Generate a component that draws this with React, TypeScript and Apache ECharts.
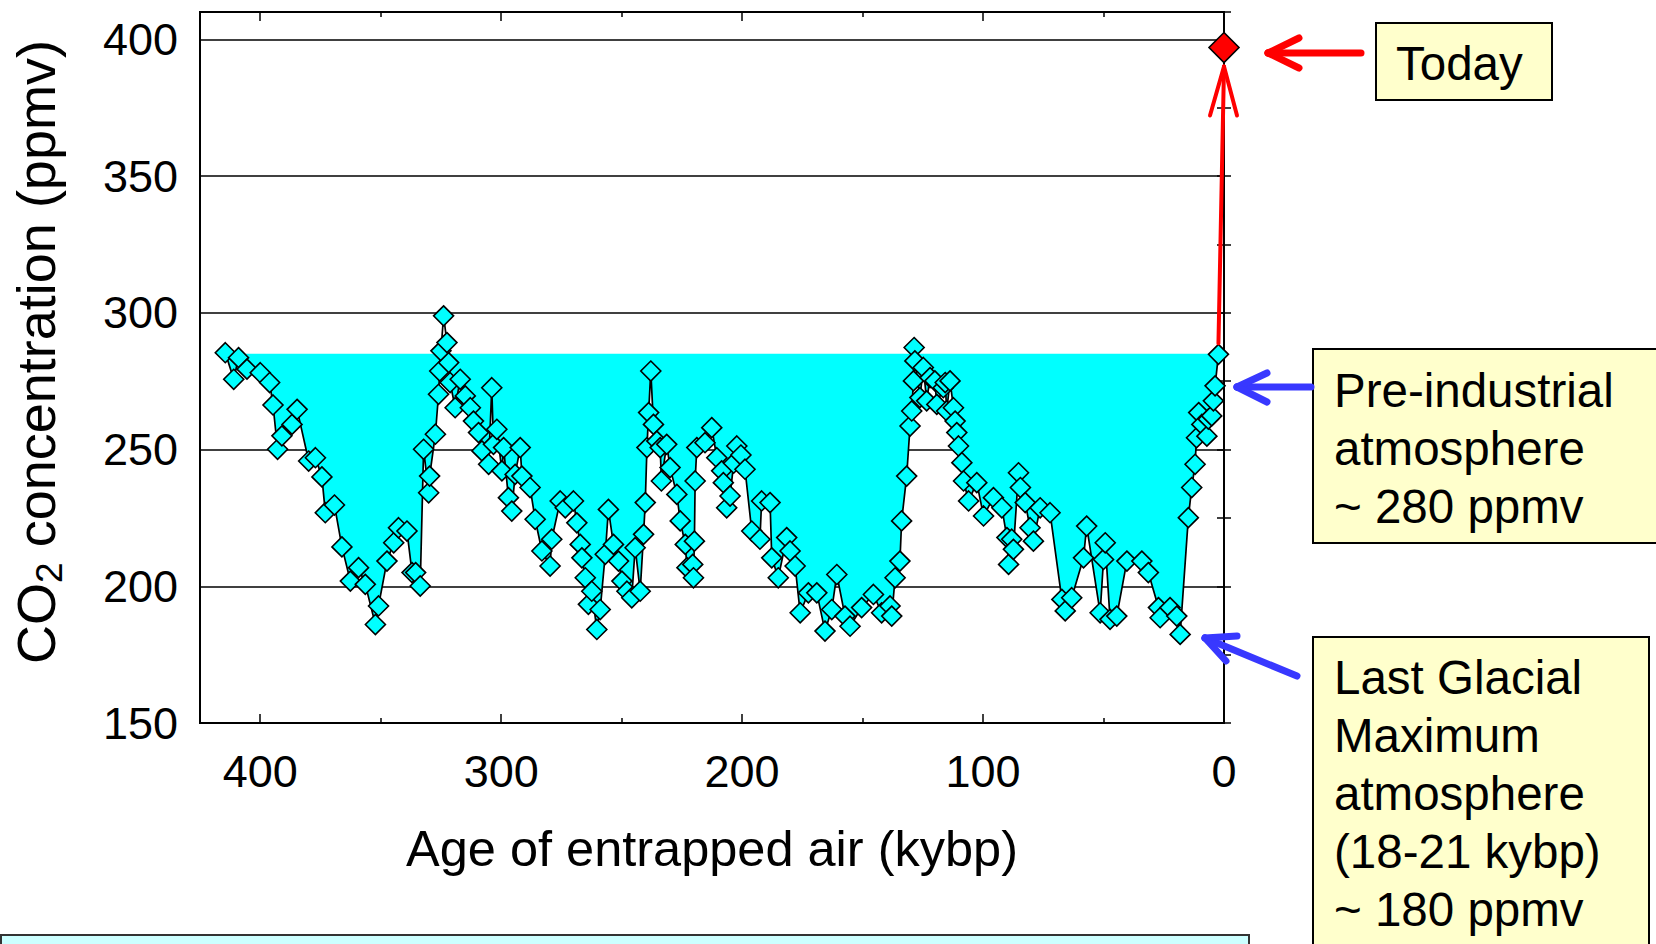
import React, { useEffect, useRef } from 'react';
import * as echarts from 'echarts';

// Vostok ice core CO2 record
const ages = [
  414.5, 411.0, 409.0, 405.5, 400.0, 396.1, 394.7, 392.8, 391.0, 386.8, 384.7, 379.9, 377.1, 374.4, 373.0, 369.2,
  366.1, 362.6, 359.2, 356.4, 352.2, 350.9, 347.4, 344.6, 342.6, 339.1, 337.0, 335.5, 333.6, 332.2, 330.1, 329.7,
  327.3, 326.0, 325.5, 325.0, 323.9, 322.5, 321.8, 321.2, 319.1, 317.0, 314.9, 312.8, 311.5, 309.4, 308.0, 305.2,
  303.9, 303.2, 301.8, 299.7, 299.0, 297.0, 295.6, 294.2, 292.1, 291.4, 288.0, 285.9, 283.1, 279.7, 279.0, 275.5,
  273.4, 270.0, 268.6, 267.2, 266.5, 265.1, 263.8, 262.4, 260.3, 258.9, 256.8, 255.5, 253.4, 251.3, 249.9, 247.8,
  245.8, 244.4, 242.3, 240.9, 240.2, 239.5, 238.8, 237.9, 236.8, 235.4, 234.0, 233.5, 231.3, 229.9, 227.1, 225.7,
  223.6, 222.9, 220.5, 220.2, 219.8, 219.5, 218.8, 215.4, 212.6, 210.5, 208.5, 207.8, 206.4, 205.0, 203.5, 202.2,
  200.5, 198.8, 196.0, 192.6, 191.9, 188.4, 187.7, 185.0, 181.5, 180.1, 178.0, 175.9, 172.5, 169.0, 165.6, 162.8,
  160.7, 157.3, 155.2, 150.4, 145.5, 142.1, 138.6, 137.9, 136.5, 134.5, 133.8, 131.7, 130.3, 129.6, 128.9, 128.6,
  128.3, 126.2, 124.8, 123.4, 122.0, 120.0, 119.2, 116.5, 115.7, 115.1, 113.7, 112.3, 111.6, 110.9, 110.2, 108.8,
  108.1, 106.0, 102.6, 99.8, 95.7, 92.2, 90.1, 89.4, 88.1, 87.4, 85.3, 84.5, 82.5, 80.5, 79.1, 76.3,
  72.2, 67.3, 65.9, 63.2, 58.3, 57.0, 51.4, 50.0, 49.3, 47.3, 44.5, 40.3, 34.1, 31.4, 27.2, 26.5,
  22.4, 19.6, 18.2, 14.8, 13.4, 12.0, 11.4, 10.5, 9.2, 7.1, 6.5, 5.1, 4.4, 3.7, 2.3,
];
const co2 = [
  285.4, 275.7, 283.6, 279.4, 278.1, 274.5, 266.3, 250.1, 255.0, 259.2, 264.7, 245.8, 247.0, 240.0, 226.9, 229.7,
  214.4, 201.9, 206.8, 200.7, 186.0, 192.8, 209.2, 215.9, 221.4, 220.2, 205.0, 205.0, 200.1, 250.1, 234.2, 240.3,
  255.6, 270.2, 278.7, 286.1, 298.9, 289.1, 281.8, 274.5, 265.3, 275.7, 269.6, 265.3, 260.4, 256.2, 249.5, 244.6,
  272.6, 251.9, 257.4, 242.2, 250.7, 232.4, 227.5, 240.9, 250.7, 240.3, 236.1, 224.5, 212.9, 207.4, 217.2, 231.2,
  228.7, 231.2, 223.2, 215.3, 210.4, 203.1, 193.4, 198.2, 184.2, 191.5, 211.7, 228.1, 215.3, 209.2, 201.9, 198.2,
  195.8, 214.1, 198.2, 219.0, 230.6, 250.7, 263.5, 278.7, 259.2, 253.1, 250.7, 238.5, 251.9, 243.4, 233.6, 223.9,
  215.3, 206.8, 208.0, 203.1, 216.5, 238.5, 250.7, 252.5, 258.0, 247.0, 242.2, 237.9, 228.7, 233.0, 245.0, 251.3,
  248.0, 242.8, 220.2, 217.2, 231.2, 230.6, 210.4, 203.1, 217.8, 212.9, 207.4, 190.3, 197.6, 197.6, 183.6, 191.5,
  204.3, 189.1, 185.4, 192.2, 197.0, 190.3, 192.8, 189.1, 203.1, 209.2, 223.9, 240.3, 258.6, 264.1, 275.1, 287.3,
  282.4, 269.0, 280.0, 267.8, 276.3, 275.1, 266.5, 272.6, 274.5, 264.1, 275.1, 265.3, 260.4, 256.2, 251.3, 245.2,
  238.5, 231.2, 237.9, 225.7, 232.4, 228.7, 217.8, 208.0, 217.2, 213.5, 241.5, 236.1, 230.6, 221.4, 216.5, 228.7,
  226.9, 195.2, 191.0, 195.8, 210.4, 222.0, 190.3, 209.8, 215.9, 187.9, 189.1, 209.2, 209.2, 205.0, 192.2, 188.5,
  192.2, 189.1, 182.4, 225.1, 236.1, 244.6, 254.3, 263.5, 259.2, 254.9, 261.1, 262.3, 267.8, 273.3, 284.8,
];
const todayAge = [0];
const todayCO2 = [397];
const fillTop = 285; // upper edge of the shaded band (pre-industrial level)
const xTickLabels = [0, 100, 200, 300, 400];
const yTickLabels = [150, 200, 250, 300, 350, 400];

const FONT = '"Liberation Sans", Arial, Helvetica, sans-serif';

export default function App() {
  const ref = useRef<HTMLDivElement>(null);

  useEffect(() => {
    const chart = echarts.init(ref.current as HTMLDivElement, null, { renderer: 'svg' });

    const mainData = ages.map((a, i) => [a, co2[i]]);
    const fillData = ages.map((a, i) => [a, Math.min(co2[i], fillTop)]);

    const xBase = {
      type: 'value' as const,
      min: 0,
      max: 425,
      interval: 100,
      inverse: true,
      axisLine: { show: false },
      axisTick: { show: true, inside: true, length: 9, lineStyle: { color: '#000', width: 1.5 } },
      minorTick: { show: true, splitNumber: 2, length: 5, lineStyle: { color: '#000', width: 1.5 } },
      splitLine: { show: false },
    };
    const yBase = {
      type: 'value' as const,
      min: 150,
      max: 410,
      interval: 50,
      axisLine: { show: false },
      axisTick: { show: true, inside: true, length: 7, lineStyle: { color: '#000', width: 1.5 } },
      minorTick: { show: true, splitNumber: 2, length: 7, lineStyle: { color: '#000', width: 1.5 } },
    };

    const option: any = {
      animation: false,
      backgroundColor: '#fff',
      grid: {
        left: 200,
        top: 12,
        width: 1024,
        height: 711,
        show: true,
        borderColor: '#000',
        borderWidth: 2,
        backgroundColor: 'transparent',
      },
      xAxis: [
        {
          ...xBase,
          position: 'bottom',
          axisLabel: {
            show: true,
            margin: 26,
            fontSize: 45,
            fontFamily: FONT,
            color: '#000',
            formatter: (v: number) => (xTickLabels.indexOf(v) >= 0 ? String(v) : ''),
          },
          name: 'Age of entrapped air (kybp)',
          nameLocation: 'middle',
          nameGap: 100,
          nameTextStyle: { fontSize: 50.5, fontFamily: FONT, color: '#000' },
        },
        { ...xBase, position: 'top', axisLabel: { show: false } },
      ],
      yAxis: [
        {
          ...yBase,
          position: 'left',
          splitLine: { show: true, lineStyle: { color: '#000', width: 1.5 } },
          axisLabel: {
            show: true,
            margin: 22,
            fontSize: 45,
            fontFamily: FONT,
            color: '#000',
            formatter: (v: number) => (yTickLabels.indexOf(v) >= 0 ? String(v) : ''),
          },
        },
        { ...yBase, position: 'right', splitLine: { show: false }, axisLabel: { show: false } },
      ],
      series: [
        {
          type: 'line',
          xAxisIndex: 0,
          yAxisIndex: 0,
          data: fillData,
          symbol: 'none',
          silent: true,
          lineStyle: { width: 0, opacity: 0 },
          areaStyle: { color: '#00FFFF', opacity: 1, origin: fillTop },
          z: 1,
        },
        {
          type: 'line',
          xAxisIndex: 0,
          yAxisIndex: 0,
          data: mainData,
          symbol: 'diamond',
          symbolSize: 20,
          showSymbol: true,
          itemStyle: { color: '#00FFFF', borderColor: '#000', borderWidth: 1.6, opacity: 1 },
          lineStyle: { color: '#000', width: 1.7 },
          emphasis: { disabled: true },
          z: 3,
        },
        {
          type: 'scatter',
          xAxisIndex: 0,
          yAxisIndex: 0,
          data: todayAge.map((a, i) => [a, todayCO2[i]]),
          symbol: 'diamond',
          symbolSize: 30,
          clip: false,
          itemStyle: { color: '#FF0000', borderColor: '#000', borderWidth: 1.6, opacity: 1 },
          emphasis: { disabled: true },
          z: 5,
        },
      ],
    };

    chart.setOption(option);

    const last = chart.convertToPixel({ xAxisIndex: 0, yAxisIndex: 0 }, [
      ages[ages.length - 1],
      co2[co2.length - 1],
    ]) as number[];
    const today = chart.convertToPixel({ xAxisIndex: 0, yAxisIndex: 0 }, [todayAge[0], todayCO2[0]]) as number[];

    const red = '#FF0000';
    const blue = '#3838FF';
    const seg = (x1: number, y1: number, x2: number, y2: number, stroke: string, w: number) => ({
      type: 'line',
      z: 100,
      silent: true,
      shape: { x1, y1, x2, y2 },
      style: { stroke, lineWidth: w, lineCap: 'round' },
    });
    const box = (x: number, y: number, w: number, h: number, fill: string, stroke = '#000') => ({
      type: 'rect',
      z: 90,
      silent: true,
      shape: { x, y, width: w, height: h },
      style: { fill, stroke, lineWidth: 2 },
    });
    const label = (x: number, y: number, text: string) => ({
      type: 'text',
      z: 95,
      silent: true,
      x,
      y,
      style: {
        text,
        fontSize: 47.5,
        fontFamily: FONT,
        fill: '#000',
        lineHeight: 58,
        align: 'left',
        verticalAlign: 'top',
      },
    });

    // vertical red arrow from pre-industrial point to today
    const tipX = today[0];
    const tipY = today[1] + 19;

    chart.setOption({
      graphic: [
        // y axis title with subscript
        {
          type: 'text',
          z: 95,
          silent: true,
          x: 36,
          y: 352,
          rotation: Math.PI / 2,
          style: {
            text: '{a|CO}{b|2}{a| concentration (ppmv)}',
            align: 'center',
            verticalAlign: 'middle',
            fill: '#000',
            rich: {
              a: { fontSize: 54, fontFamily: FONT, fill: '#000', lineHeight: 64 },
              b: { fontSize: 37, fontFamily: FONT, fill: '#000', lineHeight: 64, verticalAlign: 'bottom' },
            },
          },
        },
        // red arrow up to today's value
        seg(last[0], last[1] - 11, tipX, tipY, red, 4),
        seg(tipX, tipY, tipX - 14, tipY + 49, red, 4),
        seg(tipX, tipY, tipX + 13, tipY + 49, red, 4),
        // Today callout
        box(1376, 23, 176, 77, '#FFFFCC'),
        label(1396, 34, 'Today'),
        seg(1361, 53, 1268, 53, red, 7),
        seg(1268, 53, 1299, 38, red, 7),
        seg(1268, 53, 1299, 68, red, 7),
        // Pre-industrial callout
        box(1313, 349, 360, 194, '#FFFFCC'),
        label(1334, 361, 'Pre-industrial\natmosphere\n~ 280 ppmv'),
        seg(1311, 387, 1237, 387, blue, 7),
        seg(1237, 387, 1267, 373, blue, 7),
        seg(1237, 387, 1267, 402, blue, 7),
        // Last Glacial Maximum callout
        box(1313, 637, 336, 330, '#FFFFCC'),
        label(1334, 648, 'Last Glacial\nMaximum\natmosphere\n(18-21 kybp)\n~ 180 ppmv'),
        seg(1297, 676, 1205, 638, blue, 7),
        seg(1205, 638, 1237, 636, blue, 7),
        seg(1205, 638, 1226, 661, blue, 7),
        // bottom box (cut by page edge)
        box(1, 935, 1248, 30, '#CCFFFF', '#333'),
      ],
    });

    return () => chart.dispose();
  }, []);

  return (
    <div
      ref={ref}
      style={{ position: 'absolute', left: 0, top: 0, width: 1656, height: 944, background: '#fff' }}
    />
  );
}
